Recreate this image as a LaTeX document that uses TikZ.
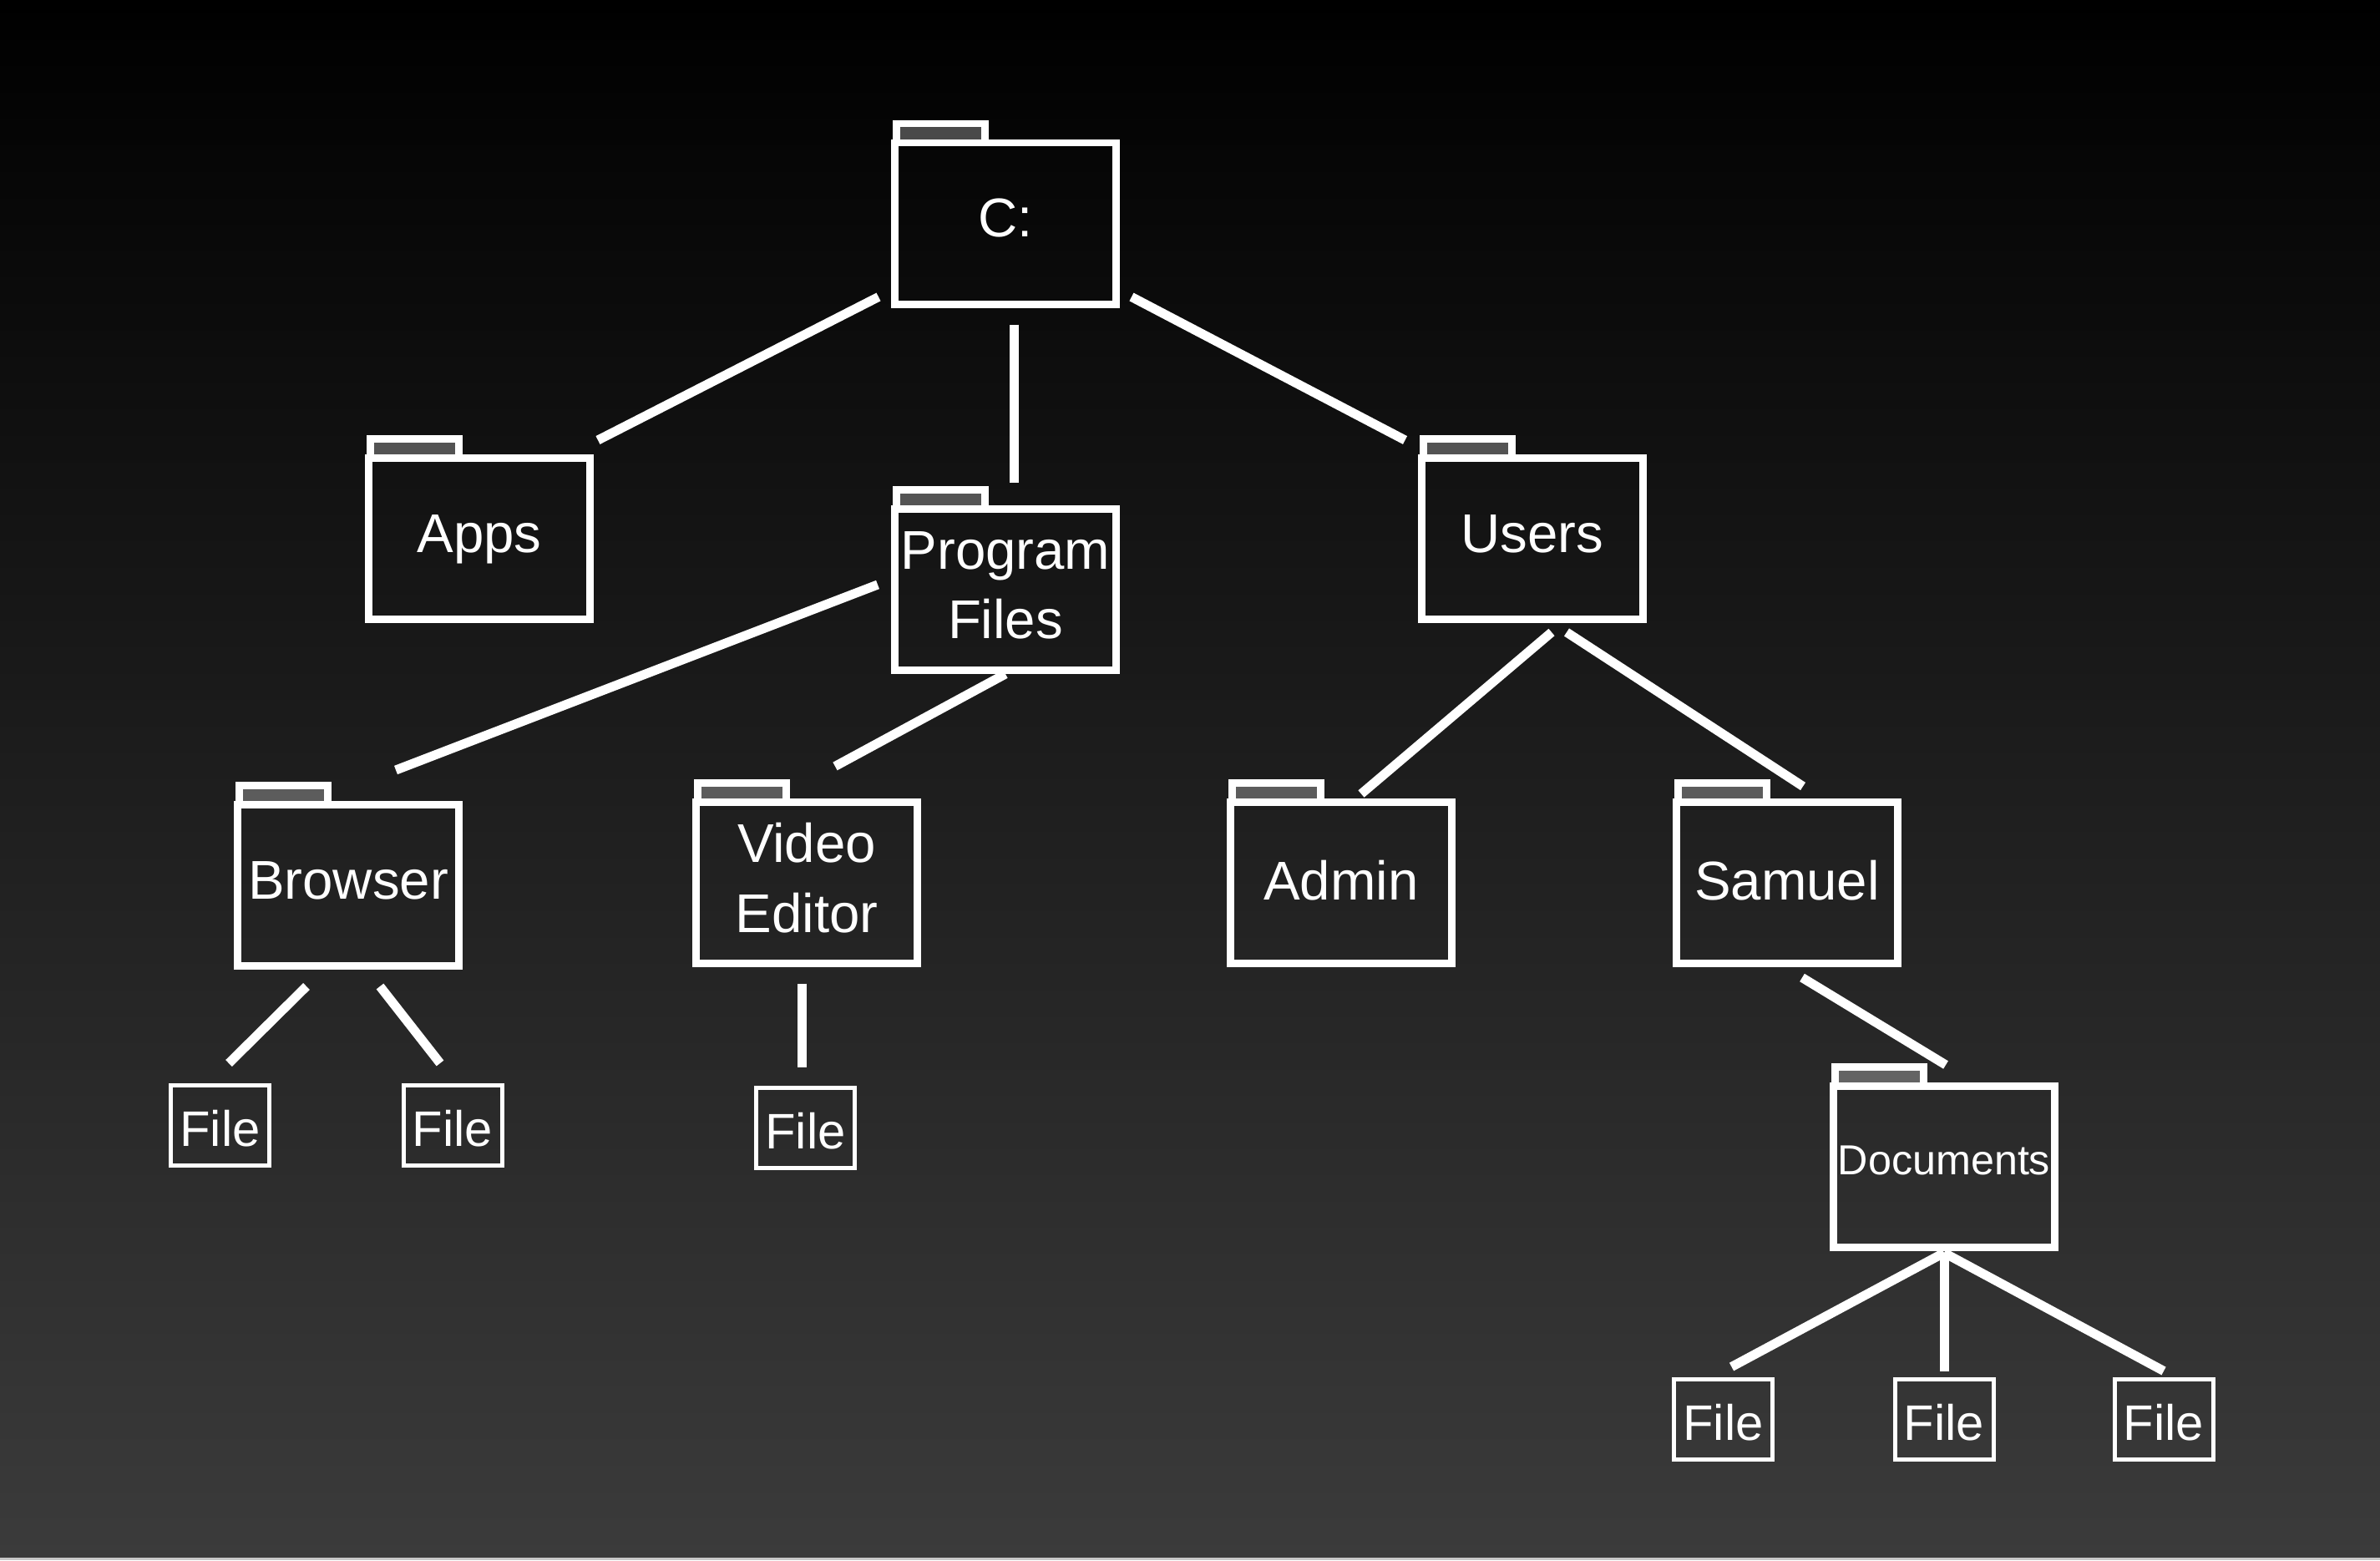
\documentclass[tikz,border=0pt]{standalone}
\usepackage{fontspec}
\setmainfont{Liberation Sans}
\usetikzlibrary{positioning}
\definecolor{bgtop}{HTML}{000000}
\definecolor{bgbottom}{HTML}{3B3B3B}
\definecolor{bgstrip}{HTML}{C8C8C8}
\tikzset{
  folder/.style={draw=white,line width=.09cm,text=white,align=center,minimum width=2.65cm,minimum height=1.93cm,inner sep=0pt,font=\fontsize{18.6}{23.8}\selectfont},
  oneline/.style={text height=.46cm,text depth=.14cm},
  twoline/.style={text depth=.11cm},
  lowline/.style={text height=.46cm,text depth=.05cm},
  filebox/.style={draw=white,line width=.05cm,text=white,minimum width=1.18cm,minimum height=.96cm,inner sep=0pt,text height=.50cm,text depth=0pt,font=\fontsize{17}{17}\selectfont},
  foldertab/.style={draw=white,line width=.09cm,fill=white,fill opacity=.28},
  link/.style={draw=white,line width=.11cm},
}

\begin{document}
\begin{tikzpicture}[on grid]
    \shade[top color=bgtop,bottom color=bgbottom] (0,0) rectangle (28.5,-18.65);
    \fill[bgstrip] (0,-18.65) rectangle (28.5,-18.68);
    \useasboundingbox (0,0) rectangle (28.5,-18.68);

    \node[folder,oneline] (c) at (12.04,-2.675) {C:};
    \node[folder,oneline,below left=3.775 and 6.30 of c] (apps) {Apps};
    \node[folder,twoline,below=4.385 of c] (progfiles) {Program\\Files};
    \node[folder,oneline,below right=3.775 and 6.305 of c] (users) {Users};
    \node[folder,oneline,below left=3.54 and 7.87 of progfiles] (browser) {Browser};
    \node[folder,twoline,below left=3.505 and 2.38 of progfiles] (video) {Video\\Editor};
    \node[folder,lowline,below left=4.115 and 2.285 of users] (admin) {Admin};
    \node[folder,lowline,below right=4.115 and 3.055 of users] (samuel) {Samuel};
    \node[folder,oneline,text depth=.27cm,font=\fontsize{14.3}{14.3}\selectfont,below right=3.405 and 1.88 of samuel] (docs) {Documents};

    \node[filebox,below left=2.875 and 1.535 of browser] (browserfilea) {File};
    \node[filebox,below right=2.875 and 1.25 of browser] (browserfileb) {File};
    \node[filebox,xshift=-.015cm,below=2.935 of video] (videofile) {File};
    \node[filebox,below left=3.02 and 2.645 of docs] (docsfilea) {File};
    \node[filebox,below=3.02 of docs] (docsfileb) {File};
    \node[filebox,below right=3.02 and 2.63 of docs] (docsfilec) {File};

    \foreach \f in {c,apps,progfiles,users,browser,video,admin,samuel,docs}
      \draw[foldertab] ([shift={(.065,.185)}]\f.north west) rectangle ([shift={(1.125,-.045)}]\f.north west);

    \draw[link] ([shift={(-.15,.13)}]c.south west) -- ([shift={(.05,.17)}]apps.north east);
    \draw[link] ([shift={(.105,-.20)}]c.south) -- ([shift={(.105,.27)}]progfiles.north);
    \draw[link] ([shift={(.14,.13)}]c.south east) -- ([shift={(-.15,.17)}]users.north west);
    \draw[link] ([shift={(-.16,.06)}]progfiles.west) -- ([shift={(.57,.37)}]browser.north);
    \draw[link] (progfiles.south) -- ([shift={(.34,.38)}]video.north);
    \draw[link] ([shift={(.235,-.11)}]users.south) -- ([shift={(.24,.05)}]admin.north);
    \draw[link] ([shift={(.415,-.11)}]users.south) -- ([shift={(.19,.14)}]samuel.north);
    \draw[link] ([shift={(-.50,-.20)}]browser.south) -- ([shift={(.105,.24)}]browserfilea.north);
    \draw[link] ([shift={(.38,-.20)}]browser.south) -- ([shift={(-.15,.24)}]browserfileb.north);
    \draw[link] ([shift={(-.06,-.20)}]video.south) -- ([shift={(-.045,.22)}]videofile.north);
    \draw[link] ([shift={(.18,-.13)}]samuel.south) -- ([shift={(.02,.21)}]docs.north);
    \draw[link] ([shift={(0,-.02)}]docs.south) -- ([shift={(.10,.12)}]docsfilea.north);
    \draw[link] ([shift={(0,-.02)}]docs.south) -- ([shift={(0,.07)}]docsfileb.north);
    \draw[link] ([shift={(0,-.02)}]docs.south) -- ([shift={(0,.07)}]docsfilec.north);
  \end{tikzpicture}
\end{document}
